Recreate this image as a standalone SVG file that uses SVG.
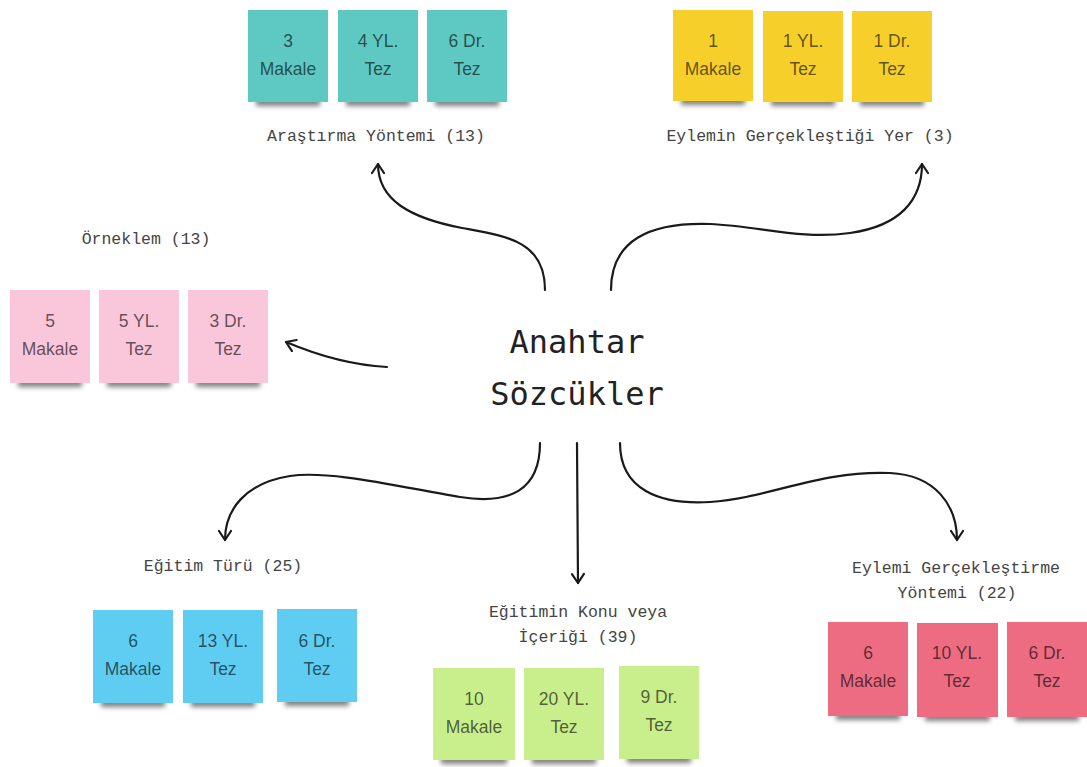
<svg xmlns="http://www.w3.org/2000/svg" width="1087" height="767" viewBox="0 0 1087 767">
<style>
  .bg{fill:#ffffff}
  .nt{font-family:"Liberation Sans",Arial,sans-serif;font-size:17.5px;text-anchor:middle;fill:#000;fill-opacity:0.62}
  .lbl{font-family:"Liberation Mono","DejaVu Sans Mono",monospace;font-size:16.5px;text-anchor:middle;fill:#444}
  .ctr{font-family:"DejaVu Sans Mono","Liberation Mono",monospace;font-size:32px;text-anchor:middle;fill:#222}
  .sh{fill:#000;fill-opacity:0.5;filter:url(#blur);transform:translateY(4px)}
  .teal{fill:#5ec8c2}
  .yel{fill:#f6cf2b}
  .pink{fill:#f9c6da}
  .blue{fill:#5fcdf2}
  .grn{fill:#c9ee8c}
  .red{fill:#ee6c82}
  .con{fill:none;stroke:#1a1a1a;stroke-width:2.2;stroke-linecap:round;marker-end:url(#arr)}
</style>
<defs>
  <filter id="blur" x="-20%" y="-100%" width="140%" height="300%">
    <feGaussianBlur stdDeviation="2.5"/>
  </filter>
  <marker id="arr" viewBox="0 0 14 14" refX="12" refY="7" markerWidth="14" markerHeight="14" markerUnits="userSpaceOnUse" orient="auto">
    <path d="M3,1 L12,7 L3,13" fill="none" stroke="#1a1a1a" stroke-width="2.2" stroke-linecap="round" stroke-linejoin="round"/>
  </marker>
</defs>
<rect class="bg" x="0" y="0" width="1087" height="767"/>

<g id="connectors">
  <path class="con" d="M545,290 C545,240 505,236 462,228 C410,218 378,200 378,164"/>
  <path class="con" d="M611,290 C611,240 650,222 710,224 C760,226 800,240 850,233 C900,226 922,200 922,164"/>
  <path class="con" d="M387,367 C350,365 312,353 286,342"/>
  <path class="con" d="M540,443 C540,490 510,505 460,497 C400,487 330,470 290,476 C245,483 225,510 225,540"/>
  <path class="con" d="M577,443 L578,583"/>
  <path class="con" d="M620,443 C620,490 660,505 710,502 C770,498 820,470 890,473 C935,475 957,505 957,540"/>
</g>

<g id="center">
  <text class="ctr" x="577" y="353">Anahtar</text>
  <text class="ctr" x="577" y="405">Sözcükler</text>
</g>

<g id="arastirma">
  <text class="lbl" x="376" y="141">Araştırma Yöntemi (13)</text>
  <rect class="sh" x="256" y="94" width="64" height="8"/>
  <rect class="teal" x="248" y="10" width="80" height="92"/>
  <text class="nt" x="288" y="47">3</text><text class="nt" x="288" y="75">Makale</text>
  <rect class="sh" x="346" y="94" width="64" height="8"/>
  <rect class="teal" x="338" y="10" width="80" height="92"/>
  <text class="nt" x="378" y="47">4 YL.</text><text class="nt" x="378" y="75">Tez</text>
  <rect class="sh" x="435" y="94" width="64" height="8"/>
  <rect class="teal" x="427" y="10" width="80" height="92"/>
  <text class="nt" x="467" y="47">6 Dr.</text><text class="nt" x="467" y="75">Tez</text>
</g>

<g id="eylemin-yer">
  <text class="lbl" x="810" y="141">Eylemin Gerçekleştiği Yer (3)</text>
  <rect class="sh" x="681" y="93" width="64" height="8"/>
  <rect class="yel" x="673" y="10" width="80" height="91"/>
  <text class="nt" x="713" y="47">1</text><text class="nt" x="713" y="75">Makale</text>
  <rect class="sh" x="771" y="94" width="64" height="8"/>
  <rect class="yel" x="763" y="11" width="80" height="91"/>
  <text class="nt" x="803" y="47">1 YL.</text><text class="nt" x="803" y="75">Tez</text>
  <rect class="sh" x="860" y="94" width="64" height="8"/>
  <rect class="yel" x="852" y="11" width="80" height="91"/>
  <text class="nt" x="892" y="47">1 Dr.</text><text class="nt" x="892" y="75">Tez</text>
</g>

<g id="orneklem">
  <text class="lbl" x="146" y="244">Örneklem (13)</text>
  <rect class="sh" x="18" y="375" width="64" height="8"/>
  <rect class="pink" x="10" y="290" width="80" height="93"/>
  <text class="nt" x="50" y="327">5</text><text class="nt" x="50" y="355">Makale</text>
  <rect class="sh" x="107" y="375" width="64" height="8"/>
  <rect class="pink" x="99" y="290" width="80" height="93"/>
  <text class="nt" x="139" y="327">5 YL.</text><text class="nt" x="139" y="355">Tez</text>
  <rect class="sh" x="196" y="375" width="64" height="8"/>
  <rect class="pink" x="188" y="290" width="80" height="93"/>
  <text class="nt" x="228" y="327">3 Dr.</text><text class="nt" x="228" y="355">Tez</text>
</g>

<g id="egitim-turu">
  <text class="lbl" x="223" y="571">Eğitim Türü (25)</text>
  <rect class="sh" x="101" y="695" width="64" height="8"/>
  <rect class="blue" x="93" y="610" width="80" height="93"/>
  <text class="nt" x="133" y="647">6</text><text class="nt" x="133" y="675">Makale</text>
  <rect class="sh" x="191" y="695" width="64" height="8"/>
  <rect class="blue" x="183" y="610" width="80" height="93"/>
  <text class="nt" x="223" y="647">13 YL.</text><text class="nt" x="223" y="675">Tez</text>
  <rect class="sh" x="285" y="694" width="64" height="8"/>
  <rect class="blue" x="277" y="609" width="80" height="93"/>
  <text class="nt" x="317" y="647">6 Dr.</text><text class="nt" x="317" y="675">Tez</text>
</g>

<g id="egitim-konu">
  <text class="lbl" x="578" y="617">Eğitimin Konu veya</text>
  <text class="lbl" x="578" y="642">İçeriği (39)</text>
  <rect class="sh" x="441" y="752" width="66" height="8"/>
  <rect class="grn" x="433" y="668" width="82" height="92"/>
  <text class="nt" x="474" y="705">10</text><text class="nt" x="474" y="733">Makale</text>
  <rect class="sh" x="532" y="752" width="64" height="8"/>
  <rect class="grn" x="524" y="668" width="80" height="92"/>
  <text class="nt" x="564" y="705">20 YL.</text><text class="nt" x="564" y="733">Tez</text>
  <rect class="sh" x="627" y="751" width="64" height="8"/>
  <rect class="grn" x="619" y="666" width="80" height="93"/>
  <text class="nt" x="659" y="703">9 Dr.</text><text class="nt" x="659" y="731">Tez</text>
</g>

<g id="eylemi-yontem">
  <text class="lbl" x="956" y="573">Eylemi Gerçekleştirme</text>
  <text class="lbl" x="957" y="598">Yöntemi (22)</text>
  <rect class="sh" x="836" y="708" width="64" height="8"/>
  <rect class="red" x="828" y="622" width="80" height="94"/>
  <text class="nt" x="868" y="659">6</text><text class="nt" x="868" y="687">Makale</text>
  <rect class="sh" x="925" y="709" width="65" height="8"/>
  <rect class="red" x="917" y="623" width="81" height="94"/>
  <text class="nt" x="957" y="659">10 YL.</text><text class="nt" x="957" y="687">Tez</text>
  <rect class="sh" x="1015" y="709" width="64" height="8"/>
  <rect class="red" x="1007" y="622" width="80" height="95"/>
  <text class="nt" x="1047" y="659">6 Dr.</text><text class="nt" x="1047" y="687">Tez</text>
</g>
</svg>
